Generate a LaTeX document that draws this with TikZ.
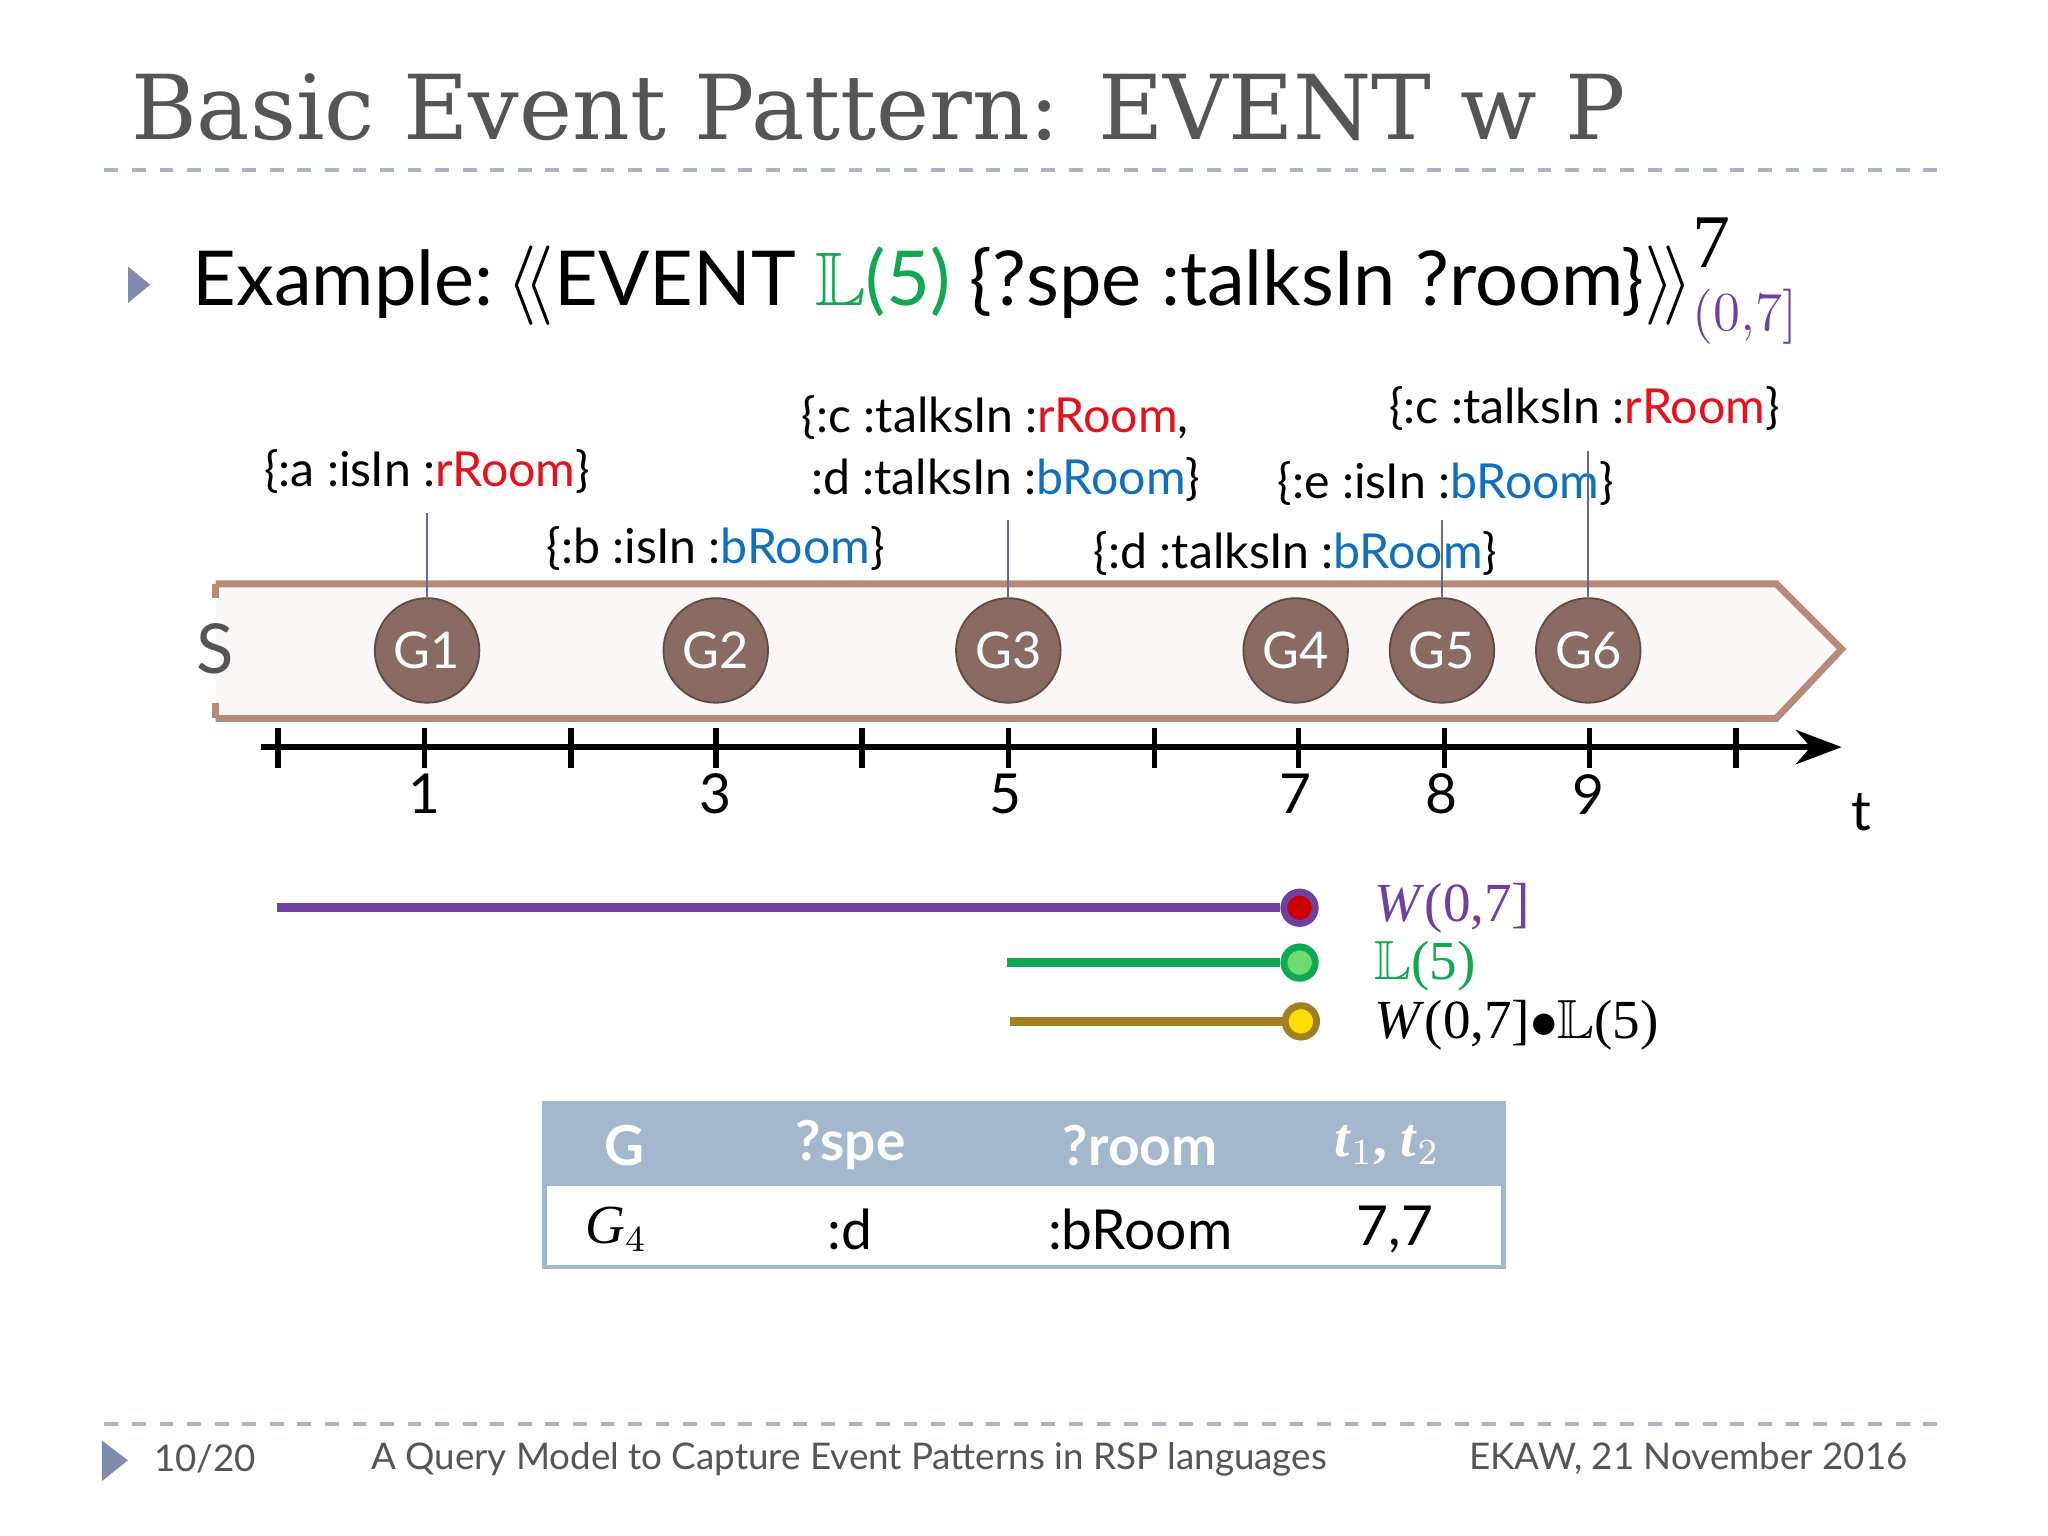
\documentclass[tikz,border=0pt]{standalone}
\usepackage{amssymb}
\usepackage{fontspec}
\setmainfont{Lato}
\newfontfamily\titlefont{DejaVu Serif}
\newfontfamily\serifit{Liberation Serif}
\usetikzlibrary{arrows.meta}
\definecolor{tgray}{HTML}{555555}
\definecolor{dashc}{HTML}{A8B4C8}
\definecolor{bul}{HTML}{7F8CB0}
\definecolor{brw}{HTML}{B88A78}
\definecolor{gfill}{HTML}{8A6B62}
\definecolor{rr}{HTML}{E8101A}
\definecolor{bb}{HTML}{1070C0}
\definecolor{pur}{HTML}{7040A0}
\definecolor{grn}{HTML}{10A850}
\definecolor{olv}{HTML}{A08020}
\definecolor{hdr}{HTML}{A3B8CC}
\tikzset{
 lab/.style={font=\fontsize{10.5}{13}\selectfont},
 gnode/.style={circle,fill=gfill,draw=gfill!70!black,minimum size=0.8cm,inner sep=0pt,text=white,font=\fontsize{11}{13}\selectfont},
 tick/.style={line width=1.2pt},
 num/.style={font=\fontsize{12}{14}\selectfont},
 vl/.style={draw=gray!80!blue,line width=0.5pt},
 wlab/.style={anchor=west,font=\serifit\fontsize{12}{14}\selectfont},
 hcell/.style={text=white,font=\bfseries\fontsize{12}{14}\selectfont},
 cell/.style={font=\fontsize{12}{14}\selectfont},
 foot/.style={text=tgray,font=\fontsize{8}{10}\selectfont}
}
\begin{document}
\begin{tikzpicture}[x=0.01cm,y=-0.01cm]
\useasboundingbox[fill=white] (0,0) rectangle (1568,1176);
\node[anchor=west,text=tgray,font=\titlefont\fontsize{19.5}{24}\selectfont] (title) at (88,82) {Basic Event Pattern: EVENT w P};
\draw[dashc,dashed,line width=0.8pt] (80,130) -- (1490,130);
\fill[bul] (98,204) -- (115,218) -- (98,232) -- cycle;
\node[anchor=west,font=\fontsize{16.5}{20}\selectfont] (ex) at (135,215) {Example:\,$\langle\!\langle$EVENT {\color{grn}$\mathbb{L}$(5)} \{?spe :talksIn ?room\}$\rangle\!\rangle^{\raisebox{2pt}{\color{black}\serifit 7}}_{\color{pur}\serifit (0,7]}$};
% stream
\draw[brw,line width=1.5pt,fill=brw!6] (165,447) -- (1360,447) -- (1410,497) -- (1360,550) -- (165,550);
\draw[brw,line width=1.5pt] (165,447)--(165,458) (165,538)--(165,550);
\node[font=\fontsize{15}{18}\selectfont,text=tgray] (S) at (165,497) {S};
\foreach \i/\x in {1/327,2/548,3/772,4/992,5/1104,6/1216}
  \node[gnode] (G\i) at (\x,498) {G\i};
% axis
\draw[tick,-{Stealth[length=10pt]}] (200,572) -- (1410,572);
\foreach \x in {213,325,437,548,660,772,884,994,1106,1217,1329}
  \draw[tick] (\x,557) -- (\x,588);
\foreach \v/\x in {1/325,3/548,5/770,7/992,8/1104,9/1216}
  \node[num] at (\x,608) {\v};
\node[num] at (1425,622) {t};
% labels
\node[lab] (l1) at (327,361) {\{:a :isIn :{\color{rr}rRoom}\}};
\node[lab] (l2) at (548,420) {\{:b :isIn :{\color{bb}bRoom}\}};
\node[lab] (l3a) at (762,320) {\{:c :talksIn :{\color{rr}rRoom},};
\node[lab] (l3) at (770,367) {:d :talksIn :{\color{bb}bRoom}\}};
\node[lab] (l4) at (992,424) {\{:d :talksIn :{\color{bb}bRoom}\}};
\node[lab] (l5) at (1107,370) {\{:e :isIn :{\color{bb}bRoom}\}};
\node[lab] (l6) at (1213,313) {\{:c :talksIn :{\color{rr}rRoom}\}};
\draw[vl] (327,393) -- (G1.north);
\draw[vl] (772,398) -- (G3.north);
\draw[vl] (1104,398) -- (G5.north);
\draw[vl] (1216,345) -- (G6.north);
% windows
\coordinate (w1) at (212,695); \coordinate (w2) at (771,737); \coordinate (w3) at (773,782);
\node[circle,draw=pur,fill=red!80!black,line width=1.5pt,minimum size=0.24cm,inner sep=0] (c1) at (995,695) {};
\node[circle,draw=grn,fill=green!60!gray!70,line width=1.5pt,minimum size=0.24cm,inner sep=0] (c2) at (995,737) {};
\node[circle,draw=olv,fill=yellow!80!orange,line width=1.5pt,minimum size=0.24cm,inner sep=0] (c3) at (996,782) {};
\draw[pur,line width=2pt] (w1) -- (c1);
\draw[grn,line width=2pt] (w2) -- (c2);
\draw[olv,line width=2pt] (w3) -- (c3);
\node[wlab,text=pur] (t1) at (1040,695) {\textit{W}(0,7]};
\node[wlab,text=grn] (t2) at (1040,740) {$\mathbb{L}$(5)};
\node[wlab] (t3) at (1040,785) {\textit{W}(0,7]$\bullet\mathbb{L}$(5)};
% table
\fill[hdr] (417,845) rectangle (1151,908);
\draw[hdr,line width=1pt] (417,845) rectangle (1151,970);
\node[hcell] at (478,877) {G};
\node[hcell] at (651,877) {?spe};
\node[hcell] at (873,877) {?room};
\node[hcell] at (1062,877) {\serifit\textit{t}$_1$, \textit{t}$_2$};
\node[cell] at (472,941) {\serifit\textit{G}$_4$};
\node[cell] at (651,941) {:d};
\node[cell] at (873,941) {:bRoom};
\node[cell] at (1068,941) {7,7};
% footer
\draw[dashc,dashed,line width=0.8pt] (80,1090) -- (1490,1090);
\fill[bul] (78,1103) -- (98,1118) -- (78,1134) -- cycle;
\node[foot] at (157,1117) {10/20};
\node[foot] at (650,1117) {A Query Model to Capture Event Patterns in RSP languages};
\node[foot,anchor=east] at (1473,1117) {EKAW, 21 November 2016};
\end{tikzpicture}
\end{document}
